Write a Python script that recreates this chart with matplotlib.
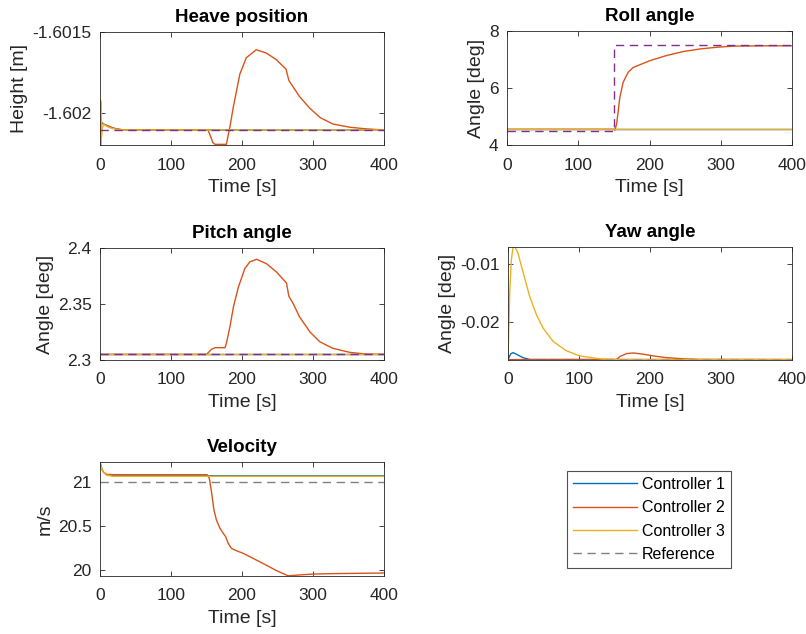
import matplotlib
matplotlib.use("Agg")
import matplotlib.pyplot as plt

plt.rcParams['font.family'] = ['Liberation Sans', 'DejaVu Sans']
plt.rcParams['axes.unicode_minus'] = False

# colours (MATLAB defaults)
C1, C2, C3, CREF = '#0072BD', '#D95319', '#EDB120', '#7E2F8E'
GRAY = '#808080'
DARK = '#262626'

# ---- data ----
# Heave position [m]
heave_t_ref = [0, 400]
heave_ref = [-1.602107, -1.602107]
heave_t1 = [0, 2, 5, 10, 15, 20, 25, 30, 40, 400]
heave_c1 = [-1.602054, -1.60206, -1.60207, -1.60208, -1.60209, -1.602097,
            -1.602102, -1.602105, -1.602107, -1.602107]
heave_t2 = [0, 5, 10, 20, 30, 40, 150, 152, 156, 159, 162, 178, 183, 188, 197,
            206, 220, 234, 248, 262, 266, 272, 281, 295, 310, 328, 352, 375, 400]
heave_c2 = [-1.60206, -1.60207, -1.60208, -1.602097, -1.602105, -1.602107,
            -1.602107, -1.602107, -1.60215, -1.602185, -1.602196, -1.602196,
            -1.602086, -1.60196, -1.60176, -1.60166, -1.60161, -1.60163,
            -1.60167, -1.60173, -1.6018, -1.60184, -1.6019, -1.60197,
            -1.60203, -1.60207, -1.60209, -1.6021, -1.602107]
heave_t3 = [0.6, 0.9, 1.2, 1.5, 1.8, 2.1, 3, 5, 8, 12, 18, 25, 35, 400]
heave_c3 = [-1.60192, -1.6022, -1.60193, -1.6022, -1.60196, -1.60215,
            -1.6021, -1.60207, -1.60208, -1.60209, -1.602098, -1.602104,
            -1.602107, -1.602107]

# Roll angle [deg]
roll_t_ref = [0, 150, 150, 400]
roll_ref = [4.49, 4.49, 7.5, 7.5]
roll_t1 = [0, 400]
roll_c1 = [4.556, 4.556]
roll_t2 = [0, 150, 151.5, 154, 158.5, 163, 170, 177, 200.7, 224, 247.6, 271,
           294.5, 318, 365, 400]
roll_c2 = [4.55, 4.55, 4.52, 4.76, 5.69, 6.2, 6.55, 6.72, 6.96, 7.14, 7.28,
           7.37, 7.43, 7.47, 7.48, 7.48]
roll_t3 = [0, 400]
roll_c3 = [4.546, 4.546]

# Pitch angle [deg]
pitch_t_ref = [0, 400]
pitch_ref = [2.305, 2.305]
pitch_t1 = [0, 400]
pitch_c1 = [2.305, 2.305]
pitch_t2 = [0, 150, 157, 162, 176, 178, 183, 188, 195, 204, 211, 220.5, 234.5,
            248.5, 262.6, 266, 272, 281, 295.5, 309.5, 328, 352, 375, 400]
pitch_c2 = [2.305, 2.305, 2.3095, 2.311, 2.311, 2.3148, 2.3298, 2.3476, 2.3653,
            2.3817, 2.3876, 2.3899, 2.386, 2.3786, 2.3688, 2.357, 2.3505,
            2.3386, 2.3252, 2.3163, 2.3104, 2.3068, 2.3053, 2.305]
pitch_t3 = [0, 400]
pitch_c3 = [2.305, 2.305]

# Yaw angle [deg]
yaw_t_ref = [0, 400]
yaw_ref = [-0.02643, -0.02643]
yaw_t1 = [0, 3.8, 7, 11.8, 21, 30.6, 400]
yaw_c1 = [-0.02643, -0.02546, -0.02523, -0.0255, -0.0261, -0.02641, -0.02643]
yaw_t2 = [0, 153, 157.6, 167, 176.5, 190.6, 204.7, 223.5, 247, 270.6, 400]
yaw_c2 = [-0.02643, -0.02643, -0.0259, -0.0254, -0.02529, -0.0255, -0.0258,
          -0.0261, -0.0263, -0.02641, -0.02643]
yaw_t3 = [0, 2.4, 4.7, 7, 9.4, 14, 21, 30.6, 40, 49.4, 63.5, 82, 101, 129,
          153, 400]
yaw_c3 = [-0.02643, -0.015, -0.00925, -0.00724, -0.00695, -0.0081, -0.0113,
          -0.0156, -0.0187, -0.021, -0.0233, -0.0249, -0.0258, -0.0263,
          -0.02643, -0.02643]

# Velocity [m/s]
vel_t_ref = [0, 400]
vel_ref = [21.0, 21.0]
vel_t1 = [0, 2.3, 4.7, 9.4, 18.8, 400]
vel_c1 = [21.22, 21.15, 21.11, 21.077, 21.068, 21.068]
vel_t2 = [0, 2.3, 4.7, 9.4, 18.8, 151, 154, 157, 160.5, 164, 169, 173.6, 177,
          180.6, 185, 192, 201.6, 225, 248.5, 265, 281, 300, 328, 400]
vel_c2 = [21.22, 21.15, 21.11, 21.083, 21.08, 21.08, 21.038, 20.886, 20.678,
          20.564, 20.47, 20.413, 20.375, 20.3, 20.242, 20.216, 20.186, 20.09,
          19.99, 19.93, 19.94, 19.95, 19.955, 19.962]
vel_t3 = [0, 2.3, 4.7, 9.4, 18.8, 400]
vel_c3 = [21.22, 21.15, 21.11, 21.073, 21.062, 21.062]

labels = ['Controller 1', 'Controller 2', 'Controller 3', 'Reference']
xticks = [0, 100, 200, 300, 400]

W, H = 806, 634
fig = plt.figure(figsize=(W / 100, H / 100), dpi=100)


def px_axes(left, top, right, bottom):
    return fig.add_axes([left / W, 1 - bottom / H, (right - left) / W, (bottom - top) / H])


def style(ax, title, ylabel, ylim, yticks, yticklabels):
    ax.set_xlim(0, 400)
    ax.set_ylim(*ylim)
    ax.set_xticks(xticks)
    ax.set_yticks(yticks)
    ax.set_yticklabels(yticklabels)
    ax.set_title(title, fontsize=13.5, fontweight='bold', color='black', pad=7)
    ax.set_xlabel('Time [s]', fontsize=14, color=DARK, labelpad=5)
    ax.set_ylabel(ylabel, fontsize=14, color=DARK, labelpad=3)
    ax.tick_params(direction='in', length=3.5, width=0.6, top=True, right=True,
                   labelsize=12.5, colors=DARK)
    ax.tick_params(axis='x', pad=9)
    ax.tick_params(axis='y', pad=6)
    for s in ax.spines.values():
        s.set_linewidth(0.6)
        s.set_color(DARK)


def draw(ax, t1, c1, t2, c2, t3, c3, tr, r, refcol):
    lw = 1.0
    h1, = ax.plot(t1, c1, color=C1, lw=lw)
    h2, = ax.plot(t2, c2, color=C2, lw=lw)
    h3, = ax.plot(t3, c3, color=C3, lw=lw)
    hr, = ax.plot(tr, r, color=refcol, lw=lw, dashes=(6, 4))
    return [h1, h2, h3, hr]


ax = px_axes(100, 32, 384, 145)
draw(ax, heave_t1, heave_c1, heave_t2, heave_c2, heave_t3, heave_c3,
     heave_t_ref, heave_ref, CREF)
style(ax, 'Heave position', 'Height [m]', (-1.6022, -1.6015),
      [-1.602, -1.6015], ['-1.602', '-1.6015'])

ax = px_axes(507, 31, 792, 145)
draw(ax, roll_t1, roll_c1, roll_t2, roll_c2, roll_t3, roll_c3,
     roll_t_ref, roll_ref, CREF)
style(ax, 'Roll angle', 'Angle [deg]', (4, 8), [4, 6, 8], ['4', '6', '8'])

ax = px_axes(100, 248, 384, 360)
draw(ax, pitch_t1, pitch_c1, pitch_t2, pitch_c2, pitch_t3, pitch_c3,
     pitch_t_ref, pitch_ref, CREF)
style(ax, 'Pitch angle', 'Angle [deg]', (2.3, 2.4), [2.3, 2.35, 2.4],
      ['2.3', '2.35', '2.4'])

ax = px_axes(508, 247, 792, 360)
draw(ax, yaw_t1, yaw_c1, yaw_t2, yaw_c2, yaw_t3, yaw_c3,
     yaw_t_ref, yaw_ref, CREF)
style(ax, 'Yaw angle', 'Angle [deg]', (-0.0265, -0.00707), [-0.02, -0.01],
      ['-0.02', '-0.01'])

ax = px_axes(100, 462, 384, 576)
handles = draw(ax, vel_t1, vel_c1, vel_t2, vel_c2, vel_t3, vel_c3,
               vel_t_ref, vel_ref, GRAY)
style(ax, 'Velocity', 'm/s', (19.928, 21.224), [20, 20.5, 21],
      ['20', '20.5', '21'])

leg = fig.legend(handles, labels, loc='upper left',
                 bbox_to_anchor=(566.7 / W, 1 - 470.7 / H), borderaxespad=0,
                 fontsize=11.5, frameon=True, fancybox=False, shadow=False,
                 handlelength=4.0, handletextpad=0.3, labelspacing=0.52,
                 borderpad=0.4)
leg.get_frame().set_edgecolor(DARK)
leg.get_frame().set_linewidth(0.8)

fig.savefig('out.png', dpi=100)
